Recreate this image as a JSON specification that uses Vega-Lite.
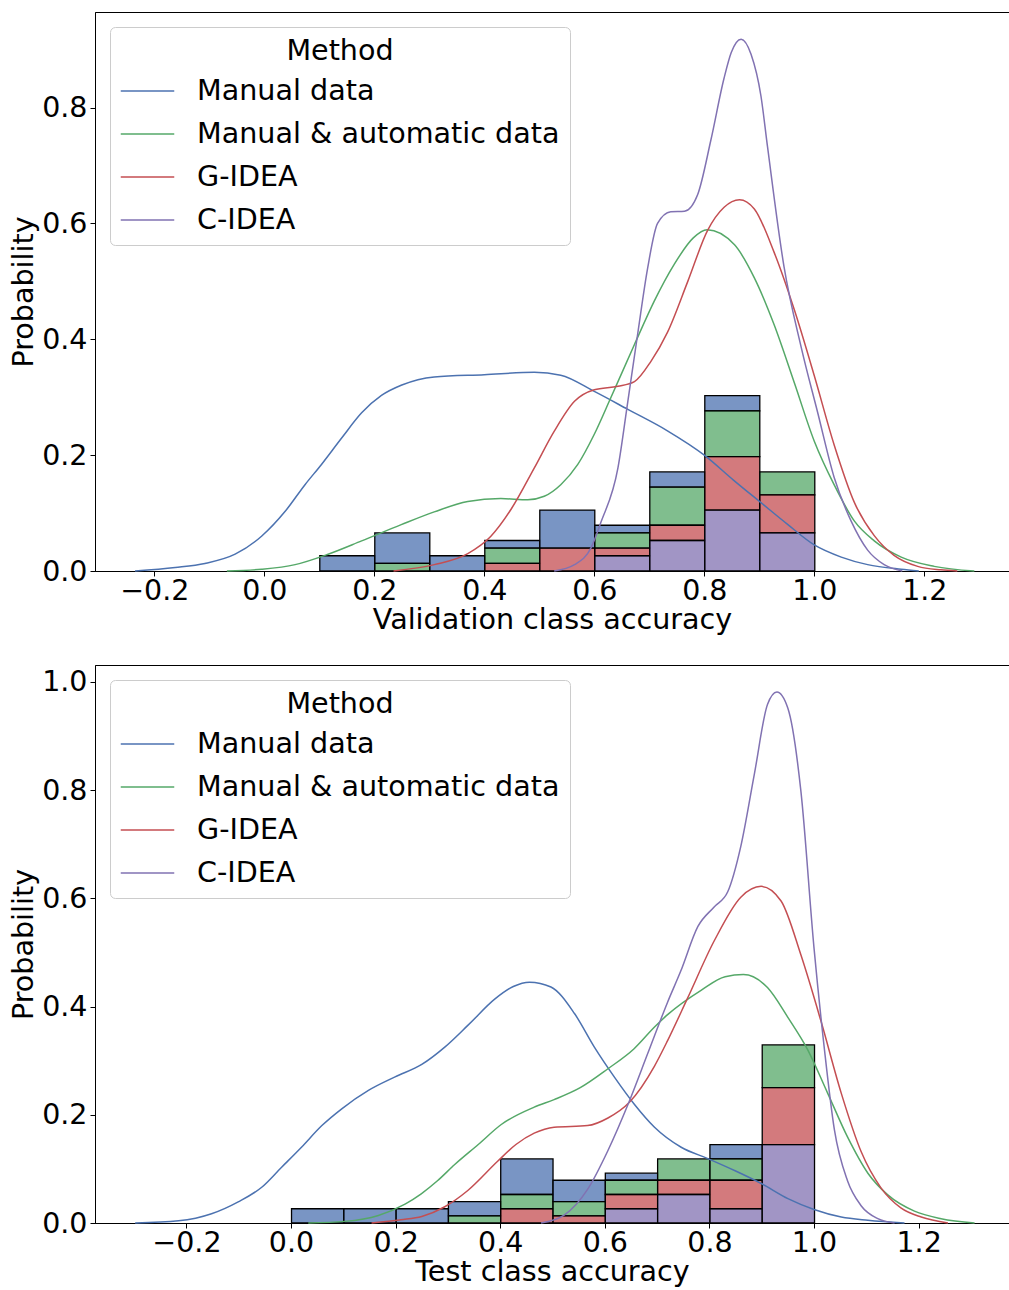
{
  "$schema": "https://vega.github.io/schema/vega-lite/v6.json",
  "background": "white",
  "padding": {"left": 9, "top": 11, "right": 0, "bottom": 0},
  "autosize": {"type": "pad"},
  "config": {
    "font": "DejaVu Sans",
    "view": {"stroke": "black", "strokeWidth": 1},
    "axis": {
      "labelFontSize": 28.5, "titleFontSize": 28.6, "titleFontWeight": "normal",
      "labelColor": "black", "titleColor": "black", "domainColor": "black",
      "tickColor": "black", "tickSize": 5, "labelPadding": 3, "grid": false,
      "domainWidth": 1, "tickWidth": 1, "labelFlush": false, "labelOverlap": false, "labelBound": false
    },
    "axisX": {"titlePadding": 1, "labelPadding": 0},
    "axisY": {"titlePadding": 3}
  },
  "datasets": {
    "hist_val": [
      {"Method": "Manual data", "bin_start": 0.1, "bin_end": 0.2, "probability": 0.02632},
      {"Method": "Manual data", "bin_start": 0.2, "bin_end": 0.3, "probability": 0.05263},
      {"Method": "Manual & automatic data", "bin_start": 0.2, "bin_end": 0.3, "probability": 0.01316},
      {"Method": "Manual data", "bin_start": 0.3, "bin_end": 0.4, "probability": 0.02632},
      {"Method": "Manual data", "bin_start": 0.4, "bin_end": 0.5, "probability": 0.01316},
      {"Method": "Manual & automatic data", "bin_start": 0.4, "bin_end": 0.5, "probability": 0.02632},
      {"Method": "G-IDEA", "bin_start": 0.4, "bin_end": 0.5, "probability": 0.01316},
      {"Method": "Manual data", "bin_start": 0.5, "bin_end": 0.6, "probability": 0.06579},
      {"Method": "G-IDEA", "bin_start": 0.5, "bin_end": 0.6, "probability": 0.03947},
      {"Method": "Manual data", "bin_start": 0.6, "bin_end": 0.7, "probability": 0.01316},
      {"Method": "Manual & automatic data", "bin_start": 0.6, "bin_end": 0.7, "probability": 0.02632},
      {"Method": "G-IDEA", "bin_start": 0.6, "bin_end": 0.7, "probability": 0.01316},
      {"Method": "C-IDEA", "bin_start": 0.6, "bin_end": 0.7, "probability": 0.02632},
      {"Method": "Manual data", "bin_start": 0.7, "bin_end": 0.8, "probability": 0.02632},
      {"Method": "Manual & automatic data", "bin_start": 0.7, "bin_end": 0.8, "probability": 0.06579},
      {"Method": "G-IDEA", "bin_start": 0.7, "bin_end": 0.8, "probability": 0.02632},
      {"Method": "C-IDEA", "bin_start": 0.7, "bin_end": 0.8, "probability": 0.05263},
      {"Method": "Manual data", "bin_start": 0.8, "bin_end": 0.9, "probability": 0.02632},
      {"Method": "Manual & automatic data", "bin_start": 0.8, "bin_end": 0.9, "probability": 0.07895},
      {"Method": "G-IDEA", "bin_start": 0.8, "bin_end": 0.9, "probability": 0.09211},
      {"Method": "C-IDEA", "bin_start": 0.8, "bin_end": 0.9, "probability": 0.10526},
      {"Method": "Manual & automatic data", "bin_start": 0.9, "bin_end": 1.0, "probability": 0.03947},
      {"Method": "G-IDEA", "bin_start": 0.9, "bin_end": 1.0, "probability": 0.06579},
      {"Method": "C-IDEA", "bin_start": 0.9, "bin_end": 1.0, "probability": 0.06579}
    ],
    "hist_test": [
      {"Method": "Manual data", "bin_start": 0.0, "bin_end": 0.1, "probability": 0.02632},
      {"Method": "Manual data", "bin_start": 0.1, "bin_end": 0.2, "probability": 0.02632},
      {"Method": "Manual data", "bin_start": 0.2, "bin_end": 0.3, "probability": 0.02632},
      {"Method": "Manual data", "bin_start": 0.3, "bin_end": 0.4, "probability": 0.02632},
      {"Method": "Manual & automatic data", "bin_start": 0.3, "bin_end": 0.4, "probability": 0.01316},
      {"Method": "Manual data", "bin_start": 0.4, "bin_end": 0.5, "probability": 0.06579},
      {"Method": "Manual & automatic data", "bin_start": 0.4, "bin_end": 0.5, "probability": 0.02632},
      {"Method": "G-IDEA", "bin_start": 0.4, "bin_end": 0.5, "probability": 0.02632},
      {"Method": "Manual data", "bin_start": 0.5, "bin_end": 0.6, "probability": 0.03947},
      {"Method": "Manual & automatic data", "bin_start": 0.5, "bin_end": 0.6, "probability": 0.02632},
      {"Method": "G-IDEA", "bin_start": 0.5, "bin_end": 0.6, "probability": 0.01316},
      {"Method": "Manual data", "bin_start": 0.6, "bin_end": 0.7, "probability": 0.01316},
      {"Method": "Manual & automatic data", "bin_start": 0.6, "bin_end": 0.7, "probability": 0.02632},
      {"Method": "G-IDEA", "bin_start": 0.6, "bin_end": 0.7, "probability": 0.02632},
      {"Method": "C-IDEA", "bin_start": 0.6, "bin_end": 0.7, "probability": 0.02632},
      {"Method": "Manual & automatic data", "bin_start": 0.7, "bin_end": 0.8, "probability": 0.03947},
      {"Method": "G-IDEA", "bin_start": 0.7, "bin_end": 0.8, "probability": 0.02632},
      {"Method": "C-IDEA", "bin_start": 0.7, "bin_end": 0.8, "probability": 0.05263},
      {"Method": "Manual data", "bin_start": 0.8, "bin_end": 0.9, "probability": 0.02632},
      {"Method": "Manual & automatic data", "bin_start": 0.8, "bin_end": 0.9, "probability": 0.03947},
      {"Method": "G-IDEA", "bin_start": 0.8, "bin_end": 0.9, "probability": 0.05263},
      {"Method": "C-IDEA", "bin_start": 0.8, "bin_end": 0.9, "probability": 0.02632},
      {"Method": "Manual & automatic data", "bin_start": 0.9, "bin_end": 1.0, "probability": 0.07895},
      {"Method": "G-IDEA", "bin_start": 0.9, "bin_end": 1.0, "probability": 0.10526},
      {"Method": "C-IDEA", "bin_start": 0.9, "bin_end": 1.0, "probability": 0.14474}
    ],
    "kde_val": [
      {"Method": "Manual data", "accuracy": -0.235, "density": 0.0},
      {"Method": "Manual data", "accuracy": -0.162, "density": 0.006},
      {"Method": "Manual data", "accuracy": -0.108, "density": 0.013},
      {"Method": "Manual data", "accuracy": -0.053, "density": 0.029},
      {"Method": "Manual data", "accuracy": -0.005, "density": 0.06},
      {"Method": "Manual data", "accuracy": 0.038, "density": 0.103},
      {"Method": "Manual data", "accuracy": 0.074, "density": 0.149},
      {"Method": "Manual data", "accuracy": 0.104, "density": 0.184},
      {"Method": "Manual data", "accuracy": 0.141, "density": 0.23},
      {"Method": "Manual data", "accuracy": 0.177, "density": 0.273},
      {"Method": "Manual data", "accuracy": 0.213, "density": 0.303},
      {"Method": "Manual data", "accuracy": 0.25, "density": 0.321},
      {"Method": "Manual data", "accuracy": 0.309, "density": 0.335},
      {"Method": "Manual data", "accuracy": 0.4, "density": 0.339},
      {"Method": "Manual data", "accuracy": 0.491, "density": 0.343},
      {"Method": "Manual data", "accuracy": 0.539, "density": 0.338},
      {"Method": "Manual data", "accuracy": 0.6, "density": 0.31},
      {"Method": "Manual data", "accuracy": 0.661, "density": 0.279},
      {"Method": "Manual data", "accuracy": 0.733, "density": 0.242},
      {"Method": "Manual data", "accuracy": 0.8, "density": 0.2},
      {"Method": "Manual data", "accuracy": 0.853, "density": 0.157},
      {"Method": "Manual data", "accuracy": 0.903, "density": 0.118},
      {"Method": "Manual data", "accuracy": 0.952, "density": 0.08},
      {"Method": "Manual data", "accuracy": 1.0, "density": 0.045},
      {"Method": "Manual data", "accuracy": 1.049, "density": 0.024},
      {"Method": "Manual data", "accuracy": 1.097, "density": 0.011},
      {"Method": "Manual data", "accuracy": 1.158, "density": 0.003},
      {"Method": "Manual data", "accuracy": 1.19, "density": 0.0},
      {"Method": "Manual & automatic data", "accuracy": -0.068, "density": 0.0},
      {"Method": "Manual & automatic data", "accuracy": -0.005, "density": 0.003},
      {"Method": "Manual & automatic data", "accuracy": 0.056, "density": 0.011},
      {"Method": "Manual & automatic data", "accuracy": 0.116, "density": 0.029},
      {"Method": "Manual & automatic data", "accuracy": 0.177, "density": 0.052},
      {"Method": "Manual & automatic data", "accuracy": 0.249, "density": 0.08},
      {"Method": "Manual & automatic data", "accuracy": 0.309, "density": 0.102},
      {"Method": "Manual & automatic data", "accuracy": 0.37, "density": 0.12},
      {"Method": "Manual & automatic data", "accuracy": 0.43, "density": 0.125},
      {"Method": "Manual & automatic data", "accuracy": 0.479, "density": 0.123},
      {"Method": "Manual & automatic data", "accuracy": 0.509, "density": 0.129},
      {"Method": "Manual & automatic data", "accuracy": 0.539, "density": 0.149},
      {"Method": "Manual & automatic data", "accuracy": 0.57, "density": 0.184},
      {"Method": "Manual & automatic data", "accuracy": 0.6, "density": 0.236},
      {"Method": "Manual & automatic data", "accuracy": 0.63, "density": 0.299},
      {"Method": "Manual & automatic data", "accuracy": 0.673, "density": 0.391},
      {"Method": "Manual & automatic data", "accuracy": 0.709, "density": 0.466},
      {"Method": "Manual & automatic data", "accuracy": 0.745, "density": 0.529},
      {"Method": "Manual & automatic data", "accuracy": 0.78, "density": 0.575},
      {"Method": "Manual & automatic data", "accuracy": 0.805, "density": 0.589},
      {"Method": "Manual & automatic data", "accuracy": 0.855, "density": 0.563},
      {"Method": "Manual & automatic data", "accuracy": 0.891, "density": 0.506},
      {"Method": "Manual & automatic data", "accuracy": 0.927, "density": 0.425},
      {"Method": "Manual & automatic data", "accuracy": 0.964, "density": 0.324},
      {"Method": "Manual & automatic data", "accuracy": 1.0, "density": 0.224},
      {"Method": "Manual & automatic data", "accuracy": 1.036, "density": 0.149},
      {"Method": "Manual & automatic data", "accuracy": 1.073, "density": 0.086},
      {"Method": "Manual & automatic data", "accuracy": 1.109, "density": 0.052},
      {"Method": "Manual & automatic data", "accuracy": 1.158, "density": 0.024},
      {"Method": "Manual & automatic data", "accuracy": 1.218, "density": 0.008},
      {"Method": "Manual & automatic data", "accuracy": 1.291, "density": 0.0},
      {"Method": "G-IDEA", "accuracy": 0.235, "density": 0.0},
      {"Method": "G-IDEA", "accuracy": 0.309, "density": 0.011},
      {"Method": "G-IDEA", "accuracy": 0.37, "density": 0.03},
      {"Method": "G-IDEA", "accuracy": 0.412, "density": 0.06},
      {"Method": "G-IDEA", "accuracy": 0.449, "density": 0.107},
      {"Method": "G-IDEA", "accuracy": 0.491, "density": 0.178},
      {"Method": "G-IDEA", "accuracy": 0.527, "density": 0.241},
      {"Method": "G-IDEA", "accuracy": 0.564, "density": 0.293},
      {"Method": "G-IDEA", "accuracy": 0.6, "density": 0.313},
      {"Method": "G-IDEA", "accuracy": 0.643, "density": 0.319},
      {"Method": "G-IDEA", "accuracy": 0.673, "density": 0.327},
      {"Method": "G-IDEA", "accuracy": 0.703, "density": 0.362},
      {"Method": "G-IDEA", "accuracy": 0.733, "density": 0.412},
      {"Method": "G-IDEA", "accuracy": 0.77, "density": 0.5},
      {"Method": "G-IDEA", "accuracy": 0.806, "density": 0.588},
      {"Method": "G-IDEA", "accuracy": 0.836, "density": 0.628},
      {"Method": "G-IDEA", "accuracy": 0.864, "density": 0.641},
      {"Method": "G-IDEA", "accuracy": 0.891, "density": 0.625},
      {"Method": "G-IDEA", "accuracy": 0.927, "density": 0.55},
      {"Method": "G-IDEA", "accuracy": 0.964, "density": 0.45},
      {"Method": "G-IDEA", "accuracy": 1.0, "density": 0.337},
      {"Method": "G-IDEA", "accuracy": 1.036, "density": 0.218},
      {"Method": "G-IDEA", "accuracy": 1.073, "density": 0.118},
      {"Method": "G-IDEA", "accuracy": 1.109, "density": 0.061},
      {"Method": "G-IDEA", "accuracy": 1.145, "density": 0.027},
      {"Method": "G-IDEA", "accuracy": 1.188, "density": 0.008},
      {"Method": "G-IDEA", "accuracy": 1.23, "density": 0.002},
      {"Method": "G-IDEA", "accuracy": 1.26, "density": 0.0},
      {"Method": "C-IDEA", "accuracy": 0.527, "density": 0.0},
      {"Method": "C-IDEA", "accuracy": 0.564, "density": 0.011},
      {"Method": "C-IDEA", "accuracy": 0.594, "density": 0.04},
      {"Method": "C-IDEA", "accuracy": 0.612, "density": 0.084},
      {"Method": "C-IDEA", "accuracy": 0.643, "density": 0.178},
      {"Method": "C-IDEA", "accuracy": 0.661, "density": 0.293},
      {"Method": "C-IDEA", "accuracy": 0.679, "density": 0.41},
      {"Method": "C-IDEA", "accuracy": 0.697, "density": 0.523},
      {"Method": "C-IDEA", "accuracy": 0.715, "density": 0.6},
      {"Method": "C-IDEA", "accuracy": 0.739, "density": 0.62},
      {"Method": "C-IDEA", "accuracy": 0.764, "density": 0.621},
      {"Method": "C-IDEA", "accuracy": 0.788, "density": 0.65},
      {"Method": "C-IDEA", "accuracy": 0.812, "density": 0.744},
      {"Method": "C-IDEA", "accuracy": 0.836, "density": 0.851},
      {"Method": "C-IDEA", "accuracy": 0.849, "density": 0.895},
      {"Method": "C-IDEA", "accuracy": 0.867, "density": 0.918},
      {"Method": "C-IDEA", "accuracy": 0.885, "density": 0.892},
      {"Method": "C-IDEA", "accuracy": 0.903, "density": 0.82},
      {"Method": "C-IDEA", "accuracy": 0.915, "density": 0.732},
      {"Method": "C-IDEA", "accuracy": 0.945, "density": 0.525},
      {"Method": "C-IDEA", "accuracy": 0.976, "density": 0.387},
      {"Method": "C-IDEA", "accuracy": 1.006, "density": 0.274},
      {"Method": "C-IDEA", "accuracy": 1.036, "density": 0.162},
      {"Method": "C-IDEA", "accuracy": 1.067, "density": 0.086},
      {"Method": "C-IDEA", "accuracy": 1.097, "density": 0.036},
      {"Method": "C-IDEA", "accuracy": 1.127, "density": 0.011},
      {"Method": "C-IDEA", "accuracy": 1.16, "density": 0.0}
    ],
    "kde_test": [
      {"Method": "Manual data", "accuracy": -0.298, "density": 0.0},
      {"Method": "Manual data", "accuracy": -0.215, "density": 0.004},
      {"Method": "Manual data", "accuracy": -0.152, "density": 0.017},
      {"Method": "Manual data", "accuracy": -0.101, "density": 0.039},
      {"Method": "Manual data", "accuracy": -0.056, "density": 0.066},
      {"Method": "Manual data", "accuracy": -0.018, "density": 0.103},
      {"Method": "Manual data", "accuracy": 0.02, "density": 0.14},
      {"Method": "Manual data", "accuracy": 0.059, "density": 0.18},
      {"Method": "Manual data", "accuracy": 0.097, "density": 0.211},
      {"Method": "Manual data", "accuracy": 0.148, "density": 0.245},
      {"Method": "Manual data", "accuracy": 0.199, "density": 0.27},
      {"Method": "Manual data", "accuracy": 0.25, "density": 0.293},
      {"Method": "Manual data", "accuracy": 0.294, "density": 0.325},
      {"Method": "Manual data", "accuracy": 0.339, "density": 0.366},
      {"Method": "Manual data", "accuracy": 0.39, "density": 0.414},
      {"Method": "Manual data", "accuracy": 0.425, "density": 0.437},
      {"Method": "Manual data", "accuracy": 0.456, "density": 0.445},
      {"Method": "Manual data", "accuracy": 0.497, "density": 0.436},
      {"Method": "Manual data", "accuracy": 0.542, "density": 0.387},
      {"Method": "Manual data", "accuracy": 0.58, "density": 0.325},
      {"Method": "Manual data", "accuracy": 0.618, "density": 0.27},
      {"Method": "Manual data", "accuracy": 0.656, "density": 0.22},
      {"Method": "Manual data", "accuracy": 0.695, "density": 0.177},
      {"Method": "Manual data", "accuracy": 0.746, "density": 0.14},
      {"Method": "Manual data", "accuracy": 0.797, "density": 0.119},
      {"Method": "Manual data", "accuracy": 0.848, "density": 0.097},
      {"Method": "Manual data", "accuracy": 0.899, "density": 0.073},
      {"Method": "Manual data", "accuracy": 0.95, "density": 0.045},
      {"Method": "Manual data", "accuracy": 1.0, "density": 0.025},
      {"Method": "Manual data", "accuracy": 1.052, "density": 0.011},
      {"Method": "Manual data", "accuracy": 1.103, "density": 0.005},
      {"Method": "Manual data", "accuracy": 1.173, "density": 0.0},
      {"Method": "Manual & automatic data", "accuracy": 0.033, "density": 0.0},
      {"Method": "Manual & automatic data", "accuracy": 0.103, "density": 0.003},
      {"Method": "Manual & automatic data", "accuracy": 0.167, "density": 0.014},
      {"Method": "Manual & automatic data", "accuracy": 0.218, "density": 0.035},
      {"Method": "Manual & automatic data", "accuracy": 0.249, "density": 0.054},
      {"Method": "Manual & automatic data", "accuracy": 0.28, "density": 0.078},
      {"Method": "Manual & automatic data", "accuracy": 0.313, "density": 0.108},
      {"Method": "Manual & automatic data", "accuracy": 0.358, "density": 0.145},
      {"Method": "Manual & automatic data", "accuracy": 0.402, "density": 0.182},
      {"Method": "Manual & automatic data", "accuracy": 0.465, "density": 0.214},
      {"Method": "Manual & automatic data", "accuracy": 0.503, "density": 0.228},
      {"Method": "Manual & automatic data", "accuracy": 0.553, "density": 0.25},
      {"Method": "Manual & automatic data", "accuracy": 0.606, "density": 0.285},
      {"Method": "Manual & automatic data", "accuracy": 0.656, "density": 0.322},
      {"Method": "Manual & automatic data", "accuracy": 0.695, "density": 0.362},
      {"Method": "Manual & automatic data", "accuracy": 0.72, "density": 0.385},
      {"Method": "Manual & automatic data", "accuracy": 0.784, "density": 0.43},
      {"Method": "Manual & automatic data", "accuracy": 0.83, "density": 0.455},
      {"Method": "Manual & automatic data", "accuracy": 0.865, "density": 0.459},
      {"Method": "Manual & automatic data", "accuracy": 0.911, "density": 0.435},
      {"Method": "Manual & automatic data", "accuracy": 0.95, "density": 0.38},
      {"Method": "Manual & automatic data", "accuracy": 0.988, "density": 0.32},
      {"Method": "Manual & automatic data", "accuracy": 1.026, "density": 0.24},
      {"Method": "Manual & automatic data", "accuracy": 1.064, "density": 0.159},
      {"Method": "Manual & automatic data", "accuracy": 1.103, "density": 0.092},
      {"Method": "Manual & automatic data", "accuracy": 1.141, "density": 0.052},
      {"Method": "Manual & automatic data", "accuracy": 1.192, "density": 0.022},
      {"Method": "Manual & automatic data", "accuracy": 1.243, "density": 0.008},
      {"Method": "Manual & automatic data", "accuracy": 1.307, "density": 0.0},
      {"Method": "G-IDEA", "accuracy": 0.154, "density": 0.0},
      {"Method": "G-IDEA", "accuracy": 0.21, "density": 0.006},
      {"Method": "G-IDEA", "accuracy": 0.25, "density": 0.012},
      {"Method": "G-IDEA", "accuracy": 0.294, "density": 0.03},
      {"Method": "G-IDEA", "accuracy": 0.338, "density": 0.06},
      {"Method": "G-IDEA", "accuracy": 0.395, "density": 0.114},
      {"Method": "G-IDEA", "accuracy": 0.43, "density": 0.145},
      {"Method": "G-IDEA", "accuracy": 0.465, "density": 0.166},
      {"Method": "G-IDEA", "accuracy": 0.503, "density": 0.177},
      {"Method": "G-IDEA", "accuracy": 0.567, "density": 0.18},
      {"Method": "G-IDEA", "accuracy": 0.606, "density": 0.194},
      {"Method": "G-IDEA", "accuracy": 0.647, "density": 0.223},
      {"Method": "G-IDEA", "accuracy": 0.695, "density": 0.29},
      {"Method": "G-IDEA", "accuracy": 0.72, "density": 0.337},
      {"Method": "G-IDEA", "accuracy": 0.758, "density": 0.415},
      {"Method": "G-IDEA", "accuracy": 0.809, "density": 0.521},
      {"Method": "G-IDEA", "accuracy": 0.86, "density": 0.602},
      {"Method": "G-IDEA", "accuracy": 0.899, "density": 0.622},
      {"Method": "G-IDEA", "accuracy": 0.937, "density": 0.595},
      {"Method": "G-IDEA", "accuracy": 0.975, "density": 0.495},
      {"Method": "G-IDEA", "accuracy": 1.013, "density": 0.374},
      {"Method": "G-IDEA", "accuracy": 1.052, "density": 0.24},
      {"Method": "G-IDEA", "accuracy": 1.09, "density": 0.132},
      {"Method": "G-IDEA", "accuracy": 1.128, "density": 0.065},
      {"Method": "G-IDEA", "accuracy": 1.166, "density": 0.028},
      {"Method": "G-IDEA", "accuracy": 1.205, "density": 0.011},
      {"Method": "G-IDEA", "accuracy": 1.256, "density": 0.0},
      {"Method": "C-IDEA", "accuracy": 0.478, "density": 0.0},
      {"Method": "C-IDEA", "accuracy": 0.523, "density": 0.015},
      {"Method": "C-IDEA", "accuracy": 0.567, "density": 0.062},
      {"Method": "C-IDEA", "accuracy": 0.606, "density": 0.134},
      {"Method": "C-IDEA", "accuracy": 0.646, "density": 0.223},
      {"Method": "C-IDEA", "accuracy": 0.682, "density": 0.313},
      {"Method": "C-IDEA", "accuracy": 0.72, "density": 0.408},
      {"Method": "C-IDEA", "accuracy": 0.745, "density": 0.465},
      {"Method": "C-IDEA", "accuracy": 0.778, "density": 0.548},
      {"Method": "C-IDEA", "accuracy": 0.809, "density": 0.584},
      {"Method": "C-IDEA", "accuracy": 0.835, "density": 0.612},
      {"Method": "C-IDEA", "accuracy": 0.86, "density": 0.696},
      {"Method": "C-IDEA", "accuracy": 0.886, "density": 0.83},
      {"Method": "C-IDEA", "accuracy": 0.911, "density": 0.958},
      {"Method": "C-IDEA", "accuracy": 0.929, "density": 0.981},
      {"Method": "C-IDEA", "accuracy": 0.95, "density": 0.951},
      {"Method": "C-IDEA", "accuracy": 0.975, "density": 0.797},
      {"Method": "C-IDEA", "accuracy": 1.0, "density": 0.508},
      {"Method": "C-IDEA", "accuracy": 1.02, "density": 0.32},
      {"Method": "C-IDEA", "accuracy": 1.039, "density": 0.172},
      {"Method": "C-IDEA", "accuracy": 1.064, "density": 0.078},
      {"Method": "C-IDEA", "accuracy": 1.09, "density": 0.032},
      {"Method": "C-IDEA", "accuracy": 1.122, "density": 0.008},
      {"Method": "C-IDEA", "accuracy": 1.154, "density": 0.0}
    ]
  },
  "spacing": 94,
  "bounds": "flush",
  "resolve": {
    "scale": {"stroke": "independent", "fill": "independent"},
    "legend": {"stroke": "independent", "fill": "independent"}
  },
  "vconcat": [
    {
      "width": 914,
      "height": 559,
      "layer": [
        {
          "data": {"name": "hist_val"},
          "mark": {"type": "bar", "stroke": "black", "strokeWidth": 1.3, "fillOpacity": 0.75, "binSpacing": 0},
          "encoding": {
            "x": {"field": "bin_start", "type": "quantitative", "bin": "binned",
                  "scale": {"domain": [-0.3078, 1.354], "nice": false, "zero": false},
                  "axis": {"values": [-0.2, 0, 0.2, 0.4, 0.6, 0.8, 1.0, 1.2], "format": ".1f"},
                  "title": "Validation class accuracy"},
            "x2": {"field": "bin_end"},
            "y": {"field": "probability", "type": "quantitative", "stack": "zero",
                  "scale": {"domain": [0, 0.965], "nice": false},
                  "axis": {"values": [0, 0.2, 0.4, 0.6, 0.8], "format": ".1f"},
                  "title": "Probability"},
            "fill": {"field": "Method", "type": "nominal",
                     "scale": {"domain": ["C-IDEA", "G-IDEA", "Manual & automatic data", "Manual data"],
                               "range": ["#8172b2", "#c44e52", "#55a868", "#4c72b0"]},
                     "legend": null},
            "order": {"field": "Method", "sort": "ascending"}
          }
        },
        {
          "data": {"name": "kde_val"},
          "mark": {"type": "line", "interpolate": "monotone", "strokeWidth": 1.5},
          "encoding": {
            "x": {"field": "accuracy", "type": "quantitative"},
            "y": {"field": "density", "type": "quantitative"},
            "stroke": {"field": "Method", "type": "nominal",
                       "scale": {"domain": ["Manual data", "Manual & automatic data", "G-IDEA", "C-IDEA"],
                                 "range": ["#4c72b0", "#55a868", "#c44e52", "#8172b2"]},
                       "legend": {
                         "title": "Method", "orient": "none", "legendX": 15, "legendY": 15,
                         "titleFontSize": 28.6, "titleFontWeight": "normal", "titleColor": "black",
                         "titleAnchor": "middle", "titlePadding": -2,
                         "labelFontSize": 28.6, "labelColor": "black", "labelLimit": 800,
                         "symbolType": "stroke", "symbolSize": 2862, "symbolStrokeWidth": 1.5,
                         "symbolOffset": 0,
                         "labelOffset": 22, "rowPadding": 0, "padding": 10,
                         "strokeColor": "#cccccc", "fillColor": "white", "cornerRadius": 5
                       }}
          }
        }
      ]
    },
    {
      "width": 914,
      "height": 558,
      "layer": [
        {
          "data": {"name": "hist_test"},
          "mark": {"type": "bar", "stroke": "black", "strokeWidth": 1.3, "fillOpacity": 0.75, "binSpacing": 0},
          "encoding": {
            "x": {"field": "bin_start", "type": "quantitative", "bin": "binned",
                  "scale": {"domain": [-0.3748, 1.3728], "nice": false, "zero": false},
                  "axis": {"values": [-0.2, 0, 0.2, 0.4, 0.6, 0.8, 1.0, 1.2], "format": ".1f"},
                  "title": "Test class accuracy"},
            "x2": {"field": "bin_end"},
            "y": {"field": "probability", "type": "quantitative", "stack": "zero",
                  "scale": {"domain": [0, 1.031], "nice": false},
                  "axis": {"values": [0, 0.2, 0.4, 0.6, 0.8, 1.0], "format": ".1f"},
                  "title": "Probability"},
            "fill": {"field": "Method", "type": "nominal",
                     "scale": {"domain": ["C-IDEA", "G-IDEA", "Manual & automatic data", "Manual data"],
                               "range": ["#8172b2", "#c44e52", "#55a868", "#4c72b0"]},
                     "legend": null},
            "order": {"field": "Method", "sort": "ascending"}
          }
        },
        {
          "data": {"name": "kde_test"},
          "mark": {"type": "line", "interpolate": "monotone", "strokeWidth": 1.5},
          "encoding": {
            "x": {"field": "accuracy", "type": "quantitative"},
            "y": {"field": "density", "type": "quantitative"},
            "stroke": {"field": "Method", "type": "nominal",
                       "scale": {"domain": ["Manual data", "Manual & automatic data", "G-IDEA", "C-IDEA"],
                                 "range": ["#4c72b0", "#55a868", "#c44e52", "#8172b2"]},
                       "legend": {
                         "title": "Method", "orient": "none", "legendX": 15, "legendY": 15,
                         "titleFontSize": 28.6, "titleFontWeight": "normal", "titleColor": "black",
                         "titleAnchor": "middle", "titlePadding": -2,
                         "labelFontSize": 28.6, "labelColor": "black", "labelLimit": 800,
                         "symbolType": "stroke", "symbolSize": 2862, "symbolStrokeWidth": 1.5,
                         "symbolOffset": 0,
                         "labelOffset": 22, "rowPadding": 0, "padding": 10,
                         "strokeColor": "#cccccc", "fillColor": "white", "cornerRadius": 5
                       }}
          }
        }
      ]
    }
  ]
}
